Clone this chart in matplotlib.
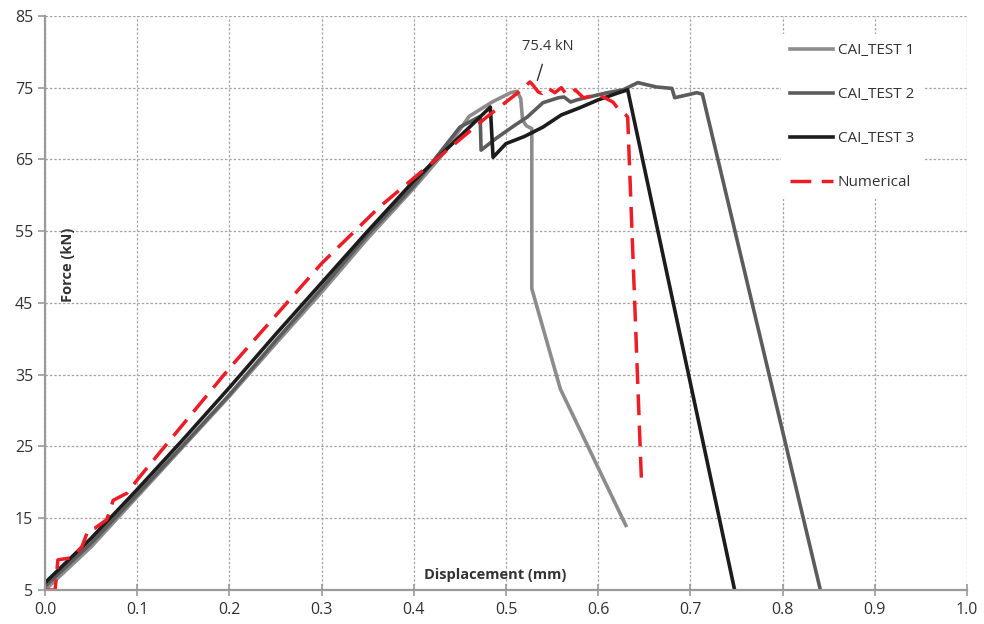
import matplotlib
matplotlib.use("Agg")
import matplotlib.pyplot as plt

plt.rcParams['font.family'] = ['Open Sans', 'DejaVu Sans']

# --- data ---
test1_x = [0.0, 0.05, 0.1, 0.15, 0.2, 0.25, 0.3, 0.35, 0.4, 0.43, 0.46, 0.485, 0.505,
           0.512, 0.516, 0.518, 0.522, 0.528, 0.528, 0.559, 0.63]
test1_f = [5.0, 11.0, 18.0, 25.0, 32.0, 39.3, 46.5, 54.0, 61.0, 65.5, 71.0, 73.0, 74.3,
           74.5, 73.5, 70.5, 69.7, 69.3, 47.0, 33.0, 14.0]

test2_x = [0.0, 0.05, 0.1, 0.15, 0.2, 0.25, 0.3, 0.35, 0.4, 0.45, 0.472, 0.473,
           0.49, 0.51, 0.523, 0.54, 0.557, 0.563, 0.57, 0.577, 0.59, 0.61, 0.627,
           0.643, 0.663, 0.68, 0.683, 0.707, 0.713, 0.841]
test2_f = [5.5, 11.5, 18.3, 25.2, 32.2, 39.7, 47.0, 54.5, 61.3, 69.5, 71.0, 66.3,
           68.0, 69.8, 70.9, 72.9, 73.6, 73.7, 73.0, 73.3, 73.7, 74.3, 74.7,
           75.7, 75.1, 74.9, 73.6, 74.3, 74.1, 5.0]

test3_x = [0.0, 0.05, 0.1, 0.15, 0.2, 0.25, 0.3, 0.35, 0.4, 0.45, 0.483, 0.486,
           0.5, 0.52, 0.54, 0.56, 0.58, 0.6, 0.62, 0.632, 0.748]
test3_f = [6.0, 12.2, 19.0, 26.0, 33.2, 40.6, 47.8, 55.0, 62.0, 68.2, 72.3, 65.3,
           67.2, 68.2, 69.5, 71.2, 72.2, 73.3, 74.2, 74.7, 5.0]

num_x = [0.0, 0.011, 0.014, 0.029, 0.040, 0.047, 0.054, 0.067, 0.074, 0.089, 0.101,
         0.2, 0.3, 0.363, 0.4, 0.479, 0.513, 0.526, 0.529, 0.535, 0.539, 0.545,
         0.553, 0.560, 0.566, 0.575, 0.584, 0.600, 0.607, 0.616, 0.622, 0.630,
         0.632, 0.647]
num_f = [5.0, 5.0, 9.2, 9.5, 11.0, 13.4, 13.6, 14.8, 17.5, 18.5, 20.5,
         35.9, 50.5, 58.4, 62.4, 70.9, 74.3, 75.8, 75.4, 74.4, 74.2, 75.0,
         74.3, 75.0, 74.0, 74.7, 73.6, 74.0, 73.6, 73.0, 72.0, 71.2,
         70.9, 20.0]

x_ticks = [0.0, 0.1, 0.2, 0.3, 0.4, 0.5, 0.6, 0.7, 0.8, 0.9, 1.0]
y_ticks = [5, 15, 25, 35, 45, 55, 65, 75, 85]

peak_label = "75.4 kN"
peak_xy = (0.534, 76.0)
peak_text_xy = (0.5456, 80.8)

fig = plt.figure(figsize=(9.84, 6.24), dpi=100)
ax = fig.add_axes([0.0457, 0.0545, 0.937, 0.92])

ax.plot(test1_x, test1_f, color='#8c8c8c', lw=2.6, label='CAI_TEST 1', solid_joinstyle='round')
ax.plot(test2_x, test2_f, color='#5c5c5c', lw=2.6, label='CAI_TEST 2', solid_joinstyle='round')
ax.plot(test3_x, test3_f, color='#1c1c1c', lw=2.6, label='CAI_TEST 3', solid_joinstyle='round')
ax.plot(num_x, num_f, color='#ee1c25', lw=2.5, dashes=(6, 3), label='Numerical')

ax.set_xlim(0, 1.0)
ax.set_ylim(5, 85)
ax.set_xticks(x_ticks)
ax.set_xticklabels([f"{v:.1f}" for v in x_ticks])
ax.set_yticks(y_ticks)

ax.grid(True, color='#a6a6a6', linestyle=(0, (2, 1.5)), lw=0.9)
ax.set_axisbelow(True)
for s in ['top', 'right']:
    ax.spines[s].set_visible(False)
for s in ['left', 'bottom']:
    ax.spines[s].set_color('#9a9a9a')
    ax.spines[s].set_linewidth(1.6)
ax.tick_params(axis='x', direction='inout', length=9, color='#9a9a9a', width=1.2,
               labelsize=11.5, labelcolor='#333333', pad=4)
ax.tick_params(axis='y', direction='out', length=5, color='#9a9a9a', width=1.2,
               labelsize=11.5, labelcolor='#333333')

# axis titles sit inside the plot area
ax.text(0.025, 50.3, 'Force (kN)', rotation=90, ha='center', va='center',
        fontsize=10.5, fontweight='bold', color='#333333')
ax.text(0.488, 7.1, 'Displacement (mm)', ha='center', va='center',
        fontsize=10.5, fontweight='bold', color='#333333')

ax.annotate(peak_label, xy=peak_xy, xytext=peak_text_xy, ha='center', va='center',
            fontsize=10.5, color='#333333',
            arrowprops=dict(arrowstyle='-', color='#333333', lw=1, shrinkA=6, shrinkB=0))

leg = ax.legend(loc='upper left', bbox_to_anchor=(0.79, 0.982), frameon=True,
                fontsize=11, labelspacing=1.9, handlelength=2.8, handletextpad=0.3,
                borderpad=0.6, fancybox=False)
leg.get_frame().set_facecolor('white')
leg.get_frame().set_edgecolor('none')
leg.get_frame().set_alpha(1)
for t in leg.get_texts():
    t.set_color('#333333')

fig.savefig('out.png', dpi=100)
